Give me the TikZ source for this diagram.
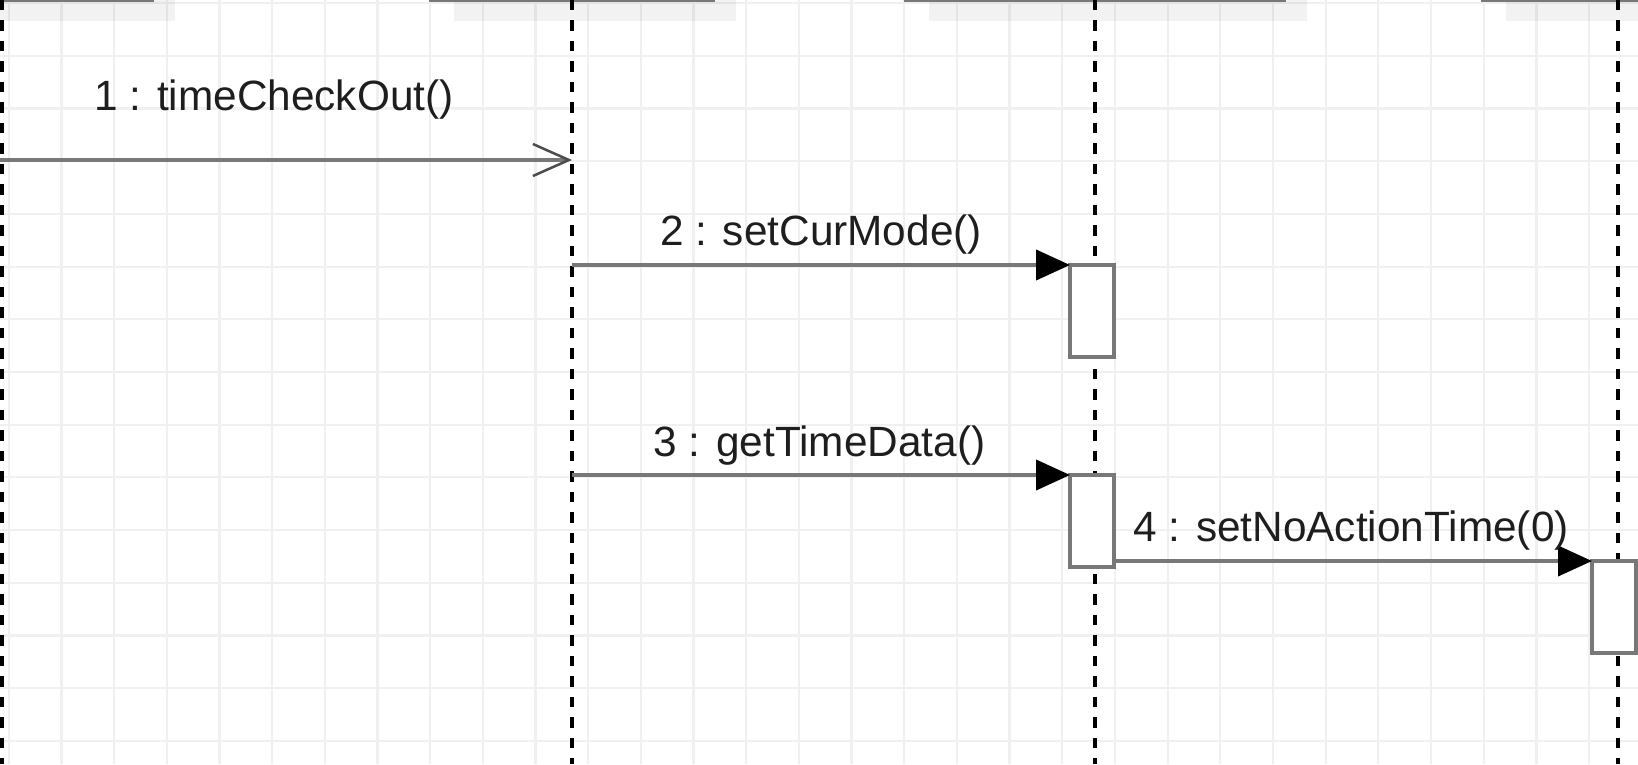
\documentclass[tikz,border=0pt]{standalone}
\usepackage{fontspec}
\setmainfont{Liberation Sans}
\usepackage{xcolor}
\definecolor{sqgray}{RGB}{120,120,120}
\definecolor{sqgrid}{RGB}{240,240,240}
\definecolor{sqtext}{RGB}{30,30,30}
\usetikzlibrary{arrows.meta,positioning,calc,shadows}

\begin{document}
\begin{tikzpicture}[x=0.02cm,y=-0.02cm,
  sqhead/.style={draw=sqgray,line width=0.08cm,fill=white,minimum height=1.6cm,inner sep=0pt,outer sep=0pt,anchor=south,
    drop shadow={shadow xshift=0.46cm,shadow yshift=-0.42cm,fill=black,opacity=0.05}},
  sqlife/.style={black,line width=0.065cm,dash pattern=on 0.205cm off 0.205cm},
  sqact/.style={draw=sqgray,fill=white,line width=0.08cm,minimum width=0.88cm,minimum height=1.84cm,
    inner sep=0pt,outer sep=0pt,anchor=north},
  sqcall/.style={-{Triangle[length=0.68cm,width=0.6cm,color=black,fill=black]},line width=0.08cm,sqgray},
  sqsend/.style={-{Straight Barb[length=0.72cm,width=0.64cm,line width=0.05cm,color=black!70]},line width=0.08cm,sqgray},
  sqlabel/.style={font=\fontsize{24.1}{29}\selectfont,text=sqtext,anchor=base,inner sep=0pt}
]
  \useasboundingbox (0,0) rectangle (1638,764);
  \clip (0,0) rectangle (1638,764);
  \fill[white] (0,0) rectangle (1638,764);
  % Canvas grid
  \foreach \gx in {0,...,30}
    \draw[sqgrid,line width=0.046cm] ({8.9+52.67*\gx},0) -- ++(0,764);
  \foreach \gy in {0,...,14}
    \draw[sqgrid,line width=0.046cm] (0,{3.3+52.67*\gy}) -- ++(1638,0);
  % Lifeline heads (cut off at the top)
  \node[sqhead,minimum width=6cm] (hdr1) at (2,0) {};
  \node[sqhead,minimum width=5.64cm] (hdr2) at (572,0) {};
  \node[sqhead,minimum width=7.56cm] (hdr3) at (1095,0) {};
  \node[sqhead,minimum width=5.42cm] (hdr4) at (1618,0) {};
  % Lifelines
  \coordinate (end1) at (2,764);
  \coordinate (end2) at (572,764);
  \coordinate (end3) at (1095,764);
  \coordinate (end4) at (1618,764);
  \draw[sqlife] (hdr1.south) -- (end1);
  \draw[sqlife] (hdr2.south) -- (end2);
  \draw[sqlife] (hdr3.south) -- (end3);
  \draw[sqlife] (hdr4.south) -- (end4);
  % Activations
  \node[sqact] (act1) at (1092,265) {};
  \node[sqact] (act2) at (1092,475) {};
  \node[sqact] (act3) at (1614,561) {};
  % Messages
  \coordinate (m1) at (0,160);
  \draw[sqsend] (m1) -- (m1 -| hdr2.south);
  \draw[sqcall] (act1.north west -| hdr2.south) -- (act1.north west);
  \draw[sqcall] (act2.north west -| hdr2.south) -- (act2.north west);
  \draw[sqcall] (act3.north west -| act2.east) -- (act3.north west);
  % Message labels
  \node[sqlabel] (lbl1) at (274,110) {1 : timeCheckOut()};
  \node[sqlabel] (lbl2) at (821,245) {2 : setCurMode()};
  \node[sqlabel] (lbl3) at (819.5,456) {3 : getTimeData()};
  \node[sqlabel] (lbl4) at (1351,541) {4 : setNoActionTime(0)};
\end{tikzpicture}
\end{document}
